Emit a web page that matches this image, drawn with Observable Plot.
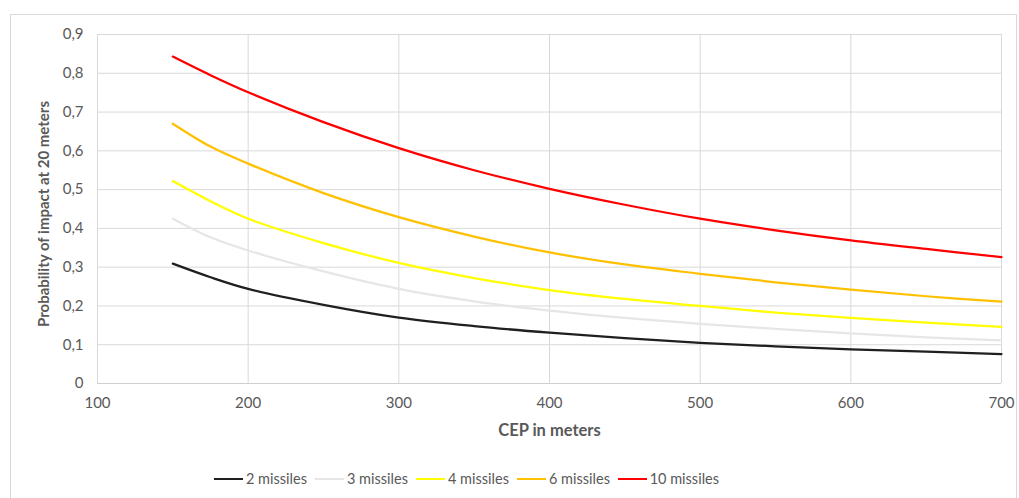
<!DOCTYPE html>
<html>
<head>
<meta charset="utf-8">
<script src="https://cdn.jsdelivr.net/npm/d3@7"></script>
<script src="https://cdn.jsdelivr.net/npm/@observablehq/plot@0.6"></script>
<style>
  html, body { margin: 0; padding: 0; background: #fff; }
  body { width: 1019px; height: 498px; position: relative; overflow: hidden; font-family: Lato, "Open Sans", sans-serif; }
  #frame { position: absolute; left: 10px; top: 14px; width: 1007px; height: 520px; border: 1px solid #d9d9d9; box-sizing: border-box; }
  #chart { position: absolute; left: 0; top: 0; }
  #legend { position: absolute; left: 214px; top: 470px; display: flex; }
  .item { width: 101px; display: flex; align-items: center; font-size: 14.5px; color: #595959; white-space: nowrap; }
  .sw { width: 29px; height: 2px; margin-right: 3px; }
</style>
</head>
<body>
<div id="frame"></div>
<div id="chart"></div>
<div id="legend"></div>
<script>
const cep = [150, 175, 200, 250, 300, 350, 400, 450, 500, 550, 600, 650, 700];
const seriesNames = ["2 missiles", "3 missiles", "4 missiles", "6 missiles", "10 missiles"];
const seriesColors = ["#1f1f1f", "#e7e6e6", "#ffff00", "#ffc000", "#ff0000"];
const missiles2  = [0.309, 0.274, 0.244, 0.203, 0.170, 0.148, 0.131, 0.117, 0.105, 0.096, 0.088, 0.082, 0.076];
const missiles3  = [0.425, 0.377, 0.343, 0.289, 0.244, 0.212, 0.188, 0.169, 0.154, 0.141, 0.129, 0.119, 0.111];
const missiles4  = [0.522, 0.470, 0.425, 0.362, 0.311, 0.272, 0.241, 0.218, 0.200, 0.183, 0.169, 0.157, 0.146];
const missiles6  = [0.670, 0.611, 0.567, 0.491, 0.429, 0.379, 0.338, 0.307, 0.283, 0.261, 0.242, 0.225, 0.211];
const missiles10 = [0.843, 0.795, 0.751, 0.674, 0.607, 0.550, 0.502, 0.461, 0.425, 0.395, 0.369, 0.347, 0.326];
const xTicks = [100, 200, 300, 400, 500, 600, 700];
const yTicks = [0, 0.1, 0.2, 0.3, 0.4, 0.5, 0.6, 0.7, 0.8, 0.9];

const allSeries = [missiles2, missiles3, missiles4, missiles6, missiles10];
const rows = [];
allSeries.forEach((vals, i) => vals.forEach((v, j) => rows.push({cep: cep[j], p: v, series: seriesNames[i]})));

const fmtY = d => d === 0 ? "0" : d.toFixed(1).replace(".", ",");

const chart = Plot.plot({
  width: 1019,
  height: 460,
  marginLeft: 97,
  marginRight: 18,
  marginTop: 34,
  marginBottom: 77,
  style: {fontFamily: "Lato, 'Open Sans', sans-serif", fontSize: "15px", color: "#595959", background: "transparent"},
  x: {domain: [100, 700], ticks: xTicks},
  y: {domain: [0, 0.9], ticks: yTicks},
  color: {domain: seriesNames, range: seriesColors},
  marks: [
    Plot.gridY(yTicks, {stroke: "#d9d9d9", strokeOpacity: 1}),
    Plot.gridX(xTicks, {stroke: "#d9d9d9", strokeOpacity: 1}),
    Plot.ruleY([0], {stroke: "#cfcfcf", strokeWidth: 1}),
    Plot.axisY(yTicks, {tickSize: 0, tickPadding: 14, tickFormat: fmtY, fontSize: 15,
      label: "Probability of impact at 20 meters", labelAnchor: "center", labelArrow: "none", labelOffset: 59}),
    Plot.axisX(xTicks, {tickSize: 0, tickPadding: 14, fontSize: 15,
      label: "CEP in meters", labelAnchor: "center", labelArrow: "none", labelOffset: 52}),
    Plot.line(rows, {x: "cep", y: "p", z: "series", stroke: "series", strokeWidth: 2.25, curve: "catmull-rom"})
  ]
});
chart.querySelectorAll("g[aria-label='y-axis label']").forEach(g => {
  g.setAttribute("transform", "translate(0,5) " + (g.getAttribute("transform") || ""));
  g.querySelectorAll("text").forEach(t => { t.setAttribute("font-weight", "bold"); t.setAttribute("font-size", "15"); });
});
chart.querySelectorAll("g[aria-label='x-axis label'] text").forEach(t => {
  t.setAttribute("font-weight", "bold");
  t.setAttribute("font-size", "16.5");
});
document.getElementById("chart").appendChild(chart);

const legend = document.getElementById("legend");
seriesNames.forEach((name, i) => {
  const item = document.createElement("div");
  item.className = "item";
  const sw = document.createElement("div");
  sw.className = "sw";
  sw.style.background = seriesColors[i];
  const label = document.createElement("span");
  label.textContent = name;
  item.appendChild(sw);
  item.appendChild(label);
  legend.appendChild(item);
});
</script>
</body>
</html>
